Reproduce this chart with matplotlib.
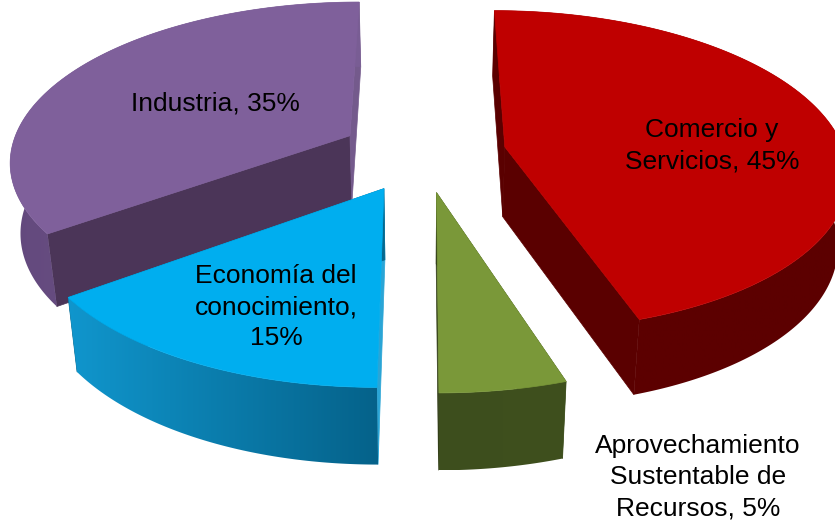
import numpy as np
import matplotlib
matplotlib.use("Agg")
import matplotlib.pyplot as plt
from matplotlib.colors import LinearSegmentedColormap
from matplotlib.patches import Polygon

plt.rcParams['font.family'] = ['Liberation Sans', 'DejaVu Sans']

# Data, clockwise from 12 o'clock
labels = ["Comercio y\nServicios, 45%", "Aprovechamiento\nSustentable de\nRecursos, 5%",
          "Economía del\nconocimiento,\n15%", "Industria, 35%"]
shares = [45, 5, 15, 35]

# Colours per slice
top_colors = ["#bf0000", "#7a9839", "#00aeef", "#7f609b"]
wall_start = ["#5a0000", "#3d4e1d", "#2aa5d6", "#4b3558"]
wall_end = ["#5a0000", "#333f18", "#05688f", "#745a8c"]
# side shading, left to right
side_left = ["#5c0000", "#3d4e1d", "#1096cd", "#63497d"]
side_right = ["#5c0000", "#3f501e", "#05628a", "#7a5e95"]

# Label centres in pixels
label_xy = [(712, 146), (698, 477), (276, 307), (215, 103)]

# Projection of the pie plane to pixels
xc, yc = 423, 153
rx, ry = 340, 158
k = 0.1466
depth = 70
bottom_shrink = 0.975
explode = 0.245


def project(X, Y, bottom=False):
    w = 1 + k * Y
    x = rx * X / w
    y = yc - ry * Y / w
    if bottom:
        x = x * bottom_shrink  # lower face sits further from the viewer
        y = y + depth / np.sqrt(w)
    return xc + x, y


def draw_slice(ax, a0, a1, top, w0, w1, c0, c1, z):
    mid = (a0 + a1) / 2
    ox, oy = explode * np.sin(mid), explode * np.cos(mid)
    t = np.linspace(a0, a1, 200)
    X = ox + np.sin(t)
    Y = oy + np.cos(t)

    # radial walls
    for a, wall in ((a0, w0), (a1, w1)):
        xs = np.array([ox, ox + np.sin(a)])
        ys = np.array([oy, oy + np.cos(a)])
        px, py = project(xs, ys)
        qx, qy = project(xs, ys, bottom=True)
        pts = np.column_stack([np.r_[px, qx[::-1]], np.r_[py, qy[::-1]]])
        ax.add_patch(Polygon(pts, fc=wall, ec=wall, lw=0.5, zorder=z))

    # outer side with a left-right gradient
    px, py = project(X, Y)
    qx, qy = project(X, Y, bottom=True)
    pts = np.column_stack([np.r_[px, qx[::-1]], np.r_[py, qy[::-1]]])
    clip = Polygon(pts, fc='none', ec='none', transform=ax.transData)
    ax.add_patch(clip)
    cmap = LinearSegmentedColormap.from_list("side", [c0, c1])
    im = ax.imshow(np.linspace(0, 1, 256)[None, :], cmap=cmap, aspect='auto', zorder=z + 1,
                   extent=(pts[:, 0].min(), pts[:, 0].max(), pts[:, 1].max(), pts[:, 1].min()))
    im.set_clip_path(clip)

    # top face
    ax0, ay0 = project(ox, oy)
    pts = np.column_stack([np.r_[ax0, px], np.r_[ay0, py]])
    ax.add_patch(Polygon(pts, fc=top, ec=top, lw=0.5, zorder=z + 2))


fig = plt.figure(figsize=(8.35, 5.25), dpi=100)
ax = fig.add_axes([0, 0, 1, 1])
ax.axis('off')

edges = np.r_[0, np.cumsum(shares)] / np.sum(shares) * 2 * np.pi

# back slices first
z = 1
for i in [3, 0, 2, 1]:
    draw_slice(ax, edges[i], edges[i + 1], top_colors[i], wall_start[i], wall_end[i],
               side_left[i], side_right[i], z)
    z += 3

ax.set_xlim(0, 835)
ax.set_ylim(525, 0)

for label, (x, y) in zip(labels, label_xy):
    ax.text(x, y, label, fontsize=19, color='black', ha='center', va='center',
            multialignment='center', linespacing=1.39, zorder=50)

fig.savefig("out.png", dpi=100)
